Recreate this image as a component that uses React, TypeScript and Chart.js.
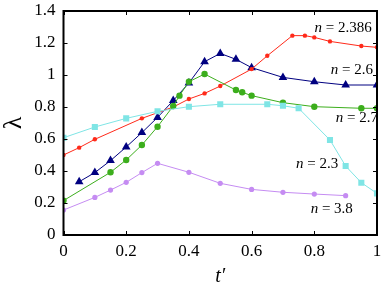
import React, { useEffect, useRef } from "react";
import { Chart, registerables } from "chart.js";

Chart.register(...registerables);

// ---- data ----
const t2386 = [0, 0.05, 0.1, 0.25, 0.35, 0.4, 0.45, 0.5, 0.6, 0.65, 0.73, 0.77, 0.8, 0.85, 0.95, 1.0];
const l2386 = [0.5, 0.546, 0.598, 0.729, 0.8, 0.85, 0.885, 0.931, 1.037, 1.12, 1.246, 1.246, 1.235, 1.21, 1.181, 1.173];

const t26 = [0.05, 0.1, 0.15, 0.2, 0.25, 0.3, 0.35, 0.4, 0.45, 0.5, 0.55, 0.6, 0.7, 0.8, 0.9, 1.0];
const l26 = [0.333, 0.39, 0.465, 0.55, 0.64, 0.735, 0.84, 0.95, 1.083, 1.135, 1.098, 1.046, 0.985, 0.958, 0.9375, 0.9375];

const t27 = [0, 0.15, 0.2, 0.25, 0.3, 0.35, 0.37, 0.4, 0.45, 0.55, 0.57, 0.6, 0.7, 0.8, 0.95, 1.0];
const l27 = [0.215, 0.392, 0.469, 0.5625, 0.677, 0.806, 0.871, 0.958, 1.006, 0.906, 0.892, 0.871, 0.827, 0.802, 0.792, 0.792];

const t23 = [0, 0.1, 0.2, 0.3, 0.4, 0.5, 0.65, 0.7, 0.75, 0.85, 0.9, 0.95, 1.0];
const l23 = [0.608, 0.675, 0.729, 0.773, 0.802, 0.817, 0.817, 0.808, 0.792, 0.594, 0.431, 0.327, 0.26];

const t38 = [0, 0.1, 0.15, 0.2, 0.25, 0.3, 0.4, 0.5, 0.6, 0.7, 0.8, 0.9];
const l38 = [0.156, 0.235, 0.281, 0.329, 0.39, 0.448, 0.392, 0.323, 0.285, 0.267, 0.256, 0.246];

const seriesNames = ["2.386", "2.6", "2.7", "2.3", "3.8"];
const xTicks = [0, 0.2, 0.4, 0.6, 0.8, 1];
const yTicks = [0, 0.2, 0.4, 0.6, 0.8, 1, 1.2, 1.4];

// label anchors (data coordinates, right-aligned)
const labelX = [0.983, 0.987, 1.003, 0.876, 0.923];
const labelY = [1.292, 1.031, 0.731, 0.444, 0.1625];

const pts = (xs: number[], ys: number[]) => xs.map((x, i) => ({ x, y: ys[i] }));

const SERIF = "'Liberation Serif', 'DejaVu Serif', serif";

const framePlugin = {
  id: "frame",
  afterDatasetsDraw(chart: any) {
    const { ctx, chartArea: a, scales } = chart;
    const xs = scales.x;
    const ys = scales.y;
    ctx.save();
    ctx.strokeStyle = "#000";
    ctx.lineWidth = 1;
    const tl = 4;
    ctx.beginPath();
    xTicks.forEach((v) => {
      const px = Math.round(xs.getPixelForValue(v)) + 0.5;
      ctx.moveTo(px, a.bottom);
      ctx.lineTo(px, a.bottom - tl);
      ctx.moveTo(px, a.top);
      ctx.lineTo(px, a.top + tl);
    });
    yTicks.forEach((v) => {
      const py = Math.round(ys.getPixelForValue(v)) + 0.5;
      ctx.moveTo(a.left, py);
      ctx.lineTo(a.left + tl, py);
      ctx.moveTo(a.right, py);
      ctx.lineTo(a.right - tl, py);
    });
    ctx.stroke();
    ctx.lineWidth = 2;
    ctx.strokeRect(a.left, a.top, a.right - a.left, a.bottom - a.top);

    // series labels
    ctx.fillStyle = "#000";
    ctx.textBaseline = "middle";
    seriesNames.forEach((name, i) => {
      const px = xs.getPixelForValue(labelX[i]);
      const py = ys.getPixelForValue(labelY[i]);
      ctx.font = `15px ${SERIF}`;
      const rest = " = " + name;
      const wRest = ctx.measureText(rest).width;
      ctx.textAlign = "left";
      ctx.fillText(rest, px - wRest, py);
      ctx.font = `italic 15px ${SERIF}`;
      ctx.textAlign = "right";
      ctx.fillText("n", px - wRest, py);
    });
    ctx.restore();
  },
};

const zeroPad = (s: any) => {
  s.paddingTop = 0;
  s.paddingBottom = 0;
  s.paddingLeft = 0;
  s.paddingRight = 0;
};

export default function App() {
  const ref = useRef<HTMLCanvasElement>(null);
  useEffect(() => {
    if (!ref.current) return;
    const mk = (label: string, data: any, color: string, style: string, r: number) => ({
      label,
      data,
      borderColor: color,
      backgroundColor: color,
      borderWidth: 1,
      pointStyle: style,
      pointRadius: r,
      pointBorderWidth: 0,
      pointBackgroundColor: color,
      showLine: true,
      tension: 0,
    });
    const chart = new Chart(ref.current, {
      type: "scatter",
      data: {
        datasets: [
          mk("n = 3.8", pts(t38, l38), "#c58cf2", "circle", 2.6),
          mk("n = 2.3", pts(t23, l23), "#7fe5e5", "rect", 4.3),
          mk("n = 2.7", pts(t27, l27), "#3cae1c", "circle", 3.2),
          mk("n = 2.386", pts(t2386, l2386), "#ff2a1a", "circle", 2.2),
          mk("n = 2.6", pts(t26, l26), "#000080", "triangle", 5),
        ] as any,
      },
      options: {
        responsive: false,
        animation: false,
        layout: { padding: { left: 0, right: 5, top: 11, bottom: 0 } },
        plugins: { legend: { display: false }, tooltip: { enabled: false } },
        scales: {
          x: {
            type: "linear",
            min: 0,
            max: 1,
            afterFit: (s: any) => {
              s.height = 53;
              zeroPad(s);
            },
            afterBuildTicks: (s: any) => {
              s.ticks = xTicks.map((v) => ({ value: v }));
            },
            grid: { display: false, drawTicks: false },
            border: { display: false },
            ticks: {
              color: "#000",
              padding: 6,
              font: { family: SERIF, size: 17 },
              callback: (v: any) => String(Number(Number(v).toFixed(1))),
              maxRotation: 0,
            },
            title: {
              display: true,
              text: "t\u2032",
              color: "#000",
              font: { family: SERIF, size: 20, style: "italic", lineHeight: 1 },
              padding: { top: 0, bottom: 1 },
            },
          },
          y: {
            type: "linear",
            min: 0,
            max: 1.4,
            afterFit: (s: any) => {
              s.width = 63.5;
              zeroPad(s);
            },
            afterBuildTicks: (s: any) => {
              s.ticks = yTicks.map((v) => ({ value: v }));
            },
            grid: { display: false, drawTicks: false },
            border: { display: false },
            ticks: {
              color: "#000",
              padding: 8,
              font: { family: SERIF, size: 17 },
              callback: (v: any) => String(Number(Number(v).toFixed(1))),
            },
            title: {
              display: true,
              text: "\u03bb",
              color: "#000",
              font: { family: SERIF, size: 26, lineHeight: 1 },
              padding: { top: 1, bottom: 0 },
            },
          },
        },
      } as any,
      plugins: [framePlugin],
    });
    return () => chart.destroy();
  }, []);
  return (
    <div style={{ position: "fixed", left: 0, top: 0, width: 382, height: 288, background: "#fff" }}>
      <canvas ref={ref} width={382} height={288} style={{ width: 382, height: 288 }} />
    </div>
  );
}
